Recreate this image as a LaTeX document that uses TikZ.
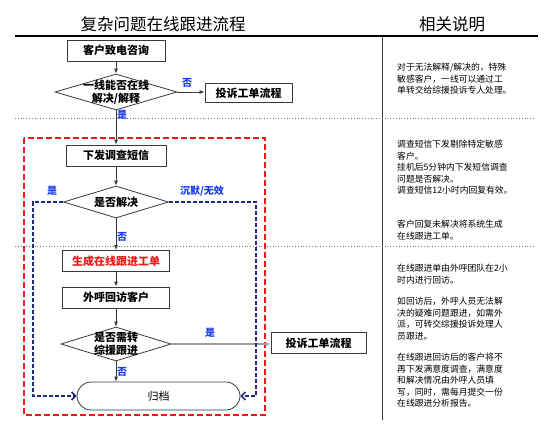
\documentclass[tikz,border=0pt]{standalone}
\usepackage{fontspec}
\setmainfont{Noto Sans CJK SC}
\usetikzlibrary{arrows.meta,shapes.geometric}
\definecolor{ink}{HTML}{3A3A3A}
\definecolor{navy}{HTML}{1F2A7A}
\definecolor{lblue}{HTML}{1A3CF0}
\definecolor{rred}{HTML}{F01818}
\definecolor{rule}{HTML}{7A7A7A}
\tikzset{
  box/.style={draw=ink,line width=.8pt,fill=white,minimum height=21,inner sep=2pt,font=\fontsize{11}{13}\selectfont\bfseries,text=black},
  boxr/.style={box,text=rred},
  dia/.style={diamond,draw=ink,line width=.8pt,fill=white,inner sep=0pt},
  dlab/.style={align=center,inner sep=0pt,font=\fontsize{11}{13}\selectfont\bfseries},
  title/.style={font=\fontsize{16.5}{20}\selectfont},
  yn/.style={font=\fontsize{10}{12}\selectfont\bfseries,text=lblue},
  note/.style={anchor=north west,align=left,inner sep=0pt,font=\fontsize{8.8}{11.5}\selectfont},
  ar/.style={-{Latex[length=5pt,width=4pt]},draw=ink,line width=.8pt},
  arb/.style={-{Straight Barb[length=4pt,width=8pt]},draw=navy,line width=1.5pt,dash pattern=on 4pt off 2pt},
  frame/.style={draw=rred,line width=1.5pt,dash pattern=on 6pt off 3pt},
  sep/.style={draw=rule,line width=.8pt,dotted},
}
\begin{document}
\begin{tikzpicture}[x=1pt,y=-1pt]
  \useasboundingbox (0,0) rectangle (560,426);
  % headings and rules
  \node[title] (head1) at (163,24) {复杂问题在线跟进流程};
  \node[title] (head2) at (452,24) {相关说明};
  \draw[line width=1.5pt] (15,36) -- (538,36);
  \draw[draw=ink,line width=.8pt] (382,36) -- (382,420);
  \draw[sep] (15,118) -- (535,118);
  \draw[sep] (15,246) -- (535,246);
  \draw[frame] (24,138) rectangle (265,415);
  % flow
  \node[box,minimum width=98] (call) at (116,50.5) {客户致电咨询};
  \node[dia,minimum width=122,minimum height=36,label={[dlab]center:一线能否在线\\解决/解释}] (d1) at (116,92) {};
  \node[box,minimum width=87,minimum height=19] (comp1) at (248.5,93) {投诉工单流程};
  \node[box,minimum width=100] (sms) at (116,155.5) {下发调查短信};
  \node[dia,minimum width=105,minimum height=32,label={[dlab]center:是否解决}] (d2) at (116,202) {};
  \node[boxr,minimum width=107] (gen) at (116,261) {生成在线跟进工单};
  \node[box,minimum width=107] (visit) at (116,297.5) {外呼回访客户};
  \node[dia,minimum width=110,minimum height=34,label={[dlab]center:是否需转\\综援跟进}] (d3) at (116,344) {};
  \node[box,minimum width=95] (comp2) at (318.5,343) {投诉工单流程};
  \node[draw=ink,line width=.8pt,fill=white,rounded corners=14,minimum width=163,minimum height=28,font=\fontsize{11}{13}\selectfont] (arch) at (158.5,396) {归档};
  \draw[ar] (call) -- (d1);
  \draw[ar] (d1.east) -- (d1.east -| comp1.west);
  \draw[ar] (d1) -- (sms);
  \draw[ar] (sms) -- (d2);
  \draw[ar] (d2) -- (gen);
  \draw[ar] (gen) -- (visit);
  \draw[ar] (visit) -- (d3);
  \draw[ar,draw=gray!75,line width=1.4pt] (d3.east) -- (d3.east -| comp2.west);
  \draw[ar] (d3.south) -- (d3.south |- arch.north);
  \coordinate (lt) at (33,202);
  \coordinate (rt) at (256,202);
  \draw[arb] (d2.west) -- (lt) |- (arch.west);
  \draw[arb] (d2.east) -- (rt) |- (arch.east);
  \node[yn] (no1) at (187,83) {否};
  \node[yn] (yes1) at (122,115) {是};
  \node[yn] (yes2) at (52,191) {是};
  \node[yn] (mute) at (202,191) {沉默/无效};
  \node[yn] (no2) at (122,237) {否};
  \node[yn] (yes3) at (210,333) {是};
  \node[yn] (no3) at (122,372) {否};
  % notes
  \node[note] (t1) at (397,63) {对于无法解释/解决的，特殊\\敏感客户，一线可以通过工\\单转交给综援投诉专人处理。};
  \node[note] (t2) at (397,140) {调查短信下发剔除特定敏感\\客户。\\挂机后5分钟内下发短信调查\\问题是否解决。\\调查短信12小时内回复有效。};
  \node[note] (t3) at (397,220) {客户回复未解决将系统生成\\在线跟进工单。};
  \node[note] (t4) at (397,264) {在线跟进单由外呼团队在2小\\时内进行回访。};
  \node[note] (t5) at (397,297) {如回访后，外呼人员无法解\\决的疑难问题跟进，如需外\\派，可转交综援投诉处理人\\员跟进。};
  \node[note] (t6) at (397,353) {在线跟进回访后的客户将不\\再下发满意度调查，满意度\\和解决情况由外呼人员填\\写，同时，需每月提交一份\\在线跟进分析报告。};
\end{tikzpicture}
\end{document}
